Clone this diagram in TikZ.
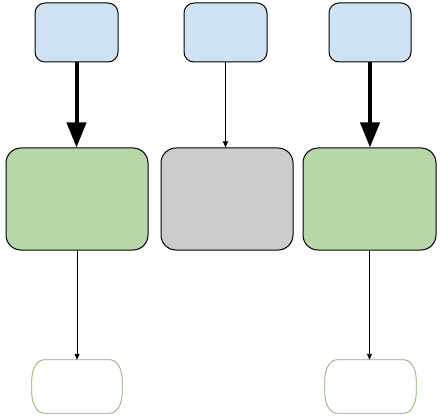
\documentclass[tikz,border=0pt]{standalone}
\usetikzlibrary{arrows.meta}
\definecolor{bluefill}{HTML}{CFE2F3}
\definecolor{greenfill}{HTML}{B6D7A8}
\definecolor{grayfill}{HTML}{CCCCCC}
\definecolor{termline}{HTML}{82B366}
\begin{document}
\begin{tikzpicture}[x=1pt,y=1pt,
  topbox/.style={draw=black,fill=bluefill,line width=1pt,rounded corners=10pt,inner sep=0pt,minimum width=83pt,minimum height=59pt},
  midbox/.style={draw=black,line width=1pt,rounded corners=15pt,inner sep=0pt,minimum height=102pt},
  term/.style={inner sep=0pt,minimum width=90pt,minimum height=53pt},
  termedge/.style={draw=termline,fill=white,line width=0.8pt},
  thick arrow/.style={line width=4pt,-{Triangle[length=25pt,width=19pt]}},
  thin arrow/.style={line width=0.9pt,-{Triangle[length=6pt,width=5pt]}}]
\useasboundingbox (0,0) rectangle (440,-420);
\node[topbox] (b1) at (76.5,-32.5) {};
\node[topbox] (b2) at (225.5,-32.5) {};
\node[topbox,minimum width=82pt] (b3) at (370,-32.5) {};
\node[midbox,fill=greenfill,minimum width=142pt] (g1) at (77,-199) {};
\node[midbox,fill=grayfill,minimum width=132pt] (g2) at (227,-199) {};
\node[midbox,fill=greenfill,minimum width=133pt] (g3) at (369.5,-199) {};
\node[term] (t1) at (77,-386.5) {};
\node[term,minimum width=91pt] (t3) at (370.5,-386.5) {};
\foreach \t in {t1,t3}{
  \draw[termedge] ([xshift=12pt]\t.north west) -- ([xshift=-12pt]\t.north east)
    arc[start angle=90,end angle=0,x radius=12pt,y radius=20pt]
    -- ([yshift=20pt]\t.south east)
    arc[start angle=0,end angle=-90,x radius=12pt,y radius=20pt]
    -- ([xshift=12pt]\t.south west)
    arc[start angle=270,end angle=180,x radius=12pt,y radius=20pt]
    -- ([yshift=-20pt]\t.north west)
    arc[start angle=180,end angle=90,x radius=12pt,y radius=20pt] -- cycle;
}
\draw[thick arrow] (b1.south) -- (b1.south |- g1.north);
\draw[thin arrow] (b2.south) -- (b2.south |- g2.north);
\draw[thick arrow] (b3.south) -- (b3.south |- g3.north);
\draw[thin arrow] (g1.south) -- (g1.south |- t1.north);
\draw[thin arrow] (g3.south) -- (g3.south |- t3.north);
\end{tikzpicture}
\end{document}
